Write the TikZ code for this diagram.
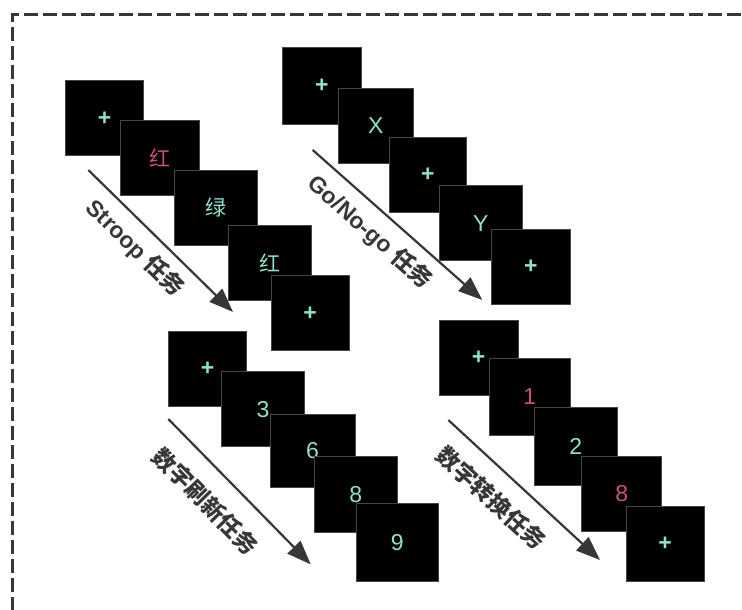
\documentclass[tikz,border=0pt]{standalone}
\usepackage{fontspec}
\setmainfont{Liberation Sans}
\newfontfamily\cjk{Noto Sans CJK SC}
\usetikzlibrary{arrows.meta}
\definecolor{teal1}{RGB}{143,224,208}
\definecolor{pink1}{RGB}{200,80,130}
\definecolor{lblgray}{RGB}{55,55,55}
\definecolor{bordergray}{RGB}{70,70,70}
\tikzset{
  scr/.style={draw=bordergray, line width=0.8pt, fill=black, minimum height=75pt,
    inner sep=0pt, text=teal1, font=\fontsize{23}{25}\selectfont},
  arr/.style={draw=lblgray, line width=2.2pt, -{Triangle[length=24pt,width=18pt]}},
  lbl/.style={sloped, text=lblgray, inner sep=0pt, anchor=center,
    font=\fontsize{23}{26}\selectfont\bfseries},
  frame/.style={draw=lblgray, line width=3pt, dash pattern=on 14pt off 5pt}
}
\begin{document}
\begin{tikzpicture}[x=1pt,y=-1pt]
\useasboundingbox[fill=white] (0,0) rectangle (742,610);
\clip (0,0) rectangle (742,610);
\coordinate (fr) at (760,15);
\coordinate (fc) at (12,15);
\coordinate (fb) at (12,620);
\draw[frame] (fr) -- (fc) -- (fb);

% Stroop
\node[scr, minimum width=78pt] (s1) at (104.7,118.3) {\textbf{+}};
\node[scr, minimum width=78.3pt] (s2) at (159.8,157.8) {\fontsize{21}{23}\cjk\textcolor{pink1}{红}};
\node[scr, minimum width=83.3pt] (s3) at (215.7,207.5) {\fontsize{21}{23}\cjk 绿};
\node[scr, minimum width=83.4pt] (s4) at (270,262.5) {\fontsize{21}{23}\cjk 红};
\node[scr, minimum width=78.3pt] (s5) at (310.2,313.3) {\textbf{+}};
\coordinate (sa) at (88.3,170);
\coordinate (sb) at (233,312);
\draw[arr] (sa) -- (sb) node[lbl, pos=0.435, yshift=-23pt] {Stroop {\cjk\bfseries 任务}};

% Go/No-go
\node[scr, minimum width=78.3pt, minimum height=76.7pt] (g1) at (321.8,85.7) {\textbf{+}};
\node[scr, minimum width=75pt] (g2) at (375.8,125.5) {X};
\node[scr, minimum width=77.7pt] (g3) at (427.8,174.8) {\textbf{+}};
\node[scr, minimum width=83pt] (g4) at (480.8,223.2) {Y};
\node[scr, minimum width=78.3pt] (g5) at (530.8,267.2) {\textbf{+}};
\coordinate (ga) at (312.7,150);
\coordinate (gb) at (482.3,300);
\draw[arr] (ga) -- (gb) node[lbl, pos=0.43, yshift=-23.5pt] {Go/No-go {\cjk\bfseries 任务}};

% digit refresh
\node[scr, minimum width=78.4pt] (r1) at (207.5,368.8) {\textbf{+}};
\node[scr, minimum width=82.6pt] (r2) at (263,409.2) {3};
\node[scr, minimum width=85pt, minimum height=73.4pt] (r3) at (312.5,451) {6};
\node[scr, minimum width=83.7pt, minimum height=75.6pt] (r4) at (355.8,494.5) {8};
\node[scr, minimum width=82.3pt, minimum height=78.4pt] (r5) at (397.2,542.5) {9};
\coordinate (ra) at (168.3,419);
\coordinate (rb) at (310.7,564.3);
\draw[arr] (ra) -- (rb) node[lbl, pos=0.417, yshift=-31pt] {\cjk\bfseries 数字刷新任务};

% digit switch
\node[scr, minimum width=78.7pt] (c1) at (478.7,358.2) {\textbf{+}};
\node[scr, minimum width=80.7pt, minimum height=76.7pt] (c2) at (529.7,396.7) {\textcolor{pink1}{1}};
\node[scr, minimum width=83pt, minimum height=77.7pt] (c3) at (575.8,446.2) {2};
\node[scr, minimum width=80pt, minimum height=74.3pt] (c4) at (621.7,493.8) {\textcolor{pink1}{8}};
\node[scr, minimum width=78.3pt] (c5) at (665.2,544.2) {\textbf{+}};
\coordinate (ca) at (448.3,420);
\coordinate (cb) at (600,560);
\draw[arr] (ca) -- (cb) node[lbl, pos=0.41, yshift=-28pt] {\cjk\bfseries 数字转换任务};
\end{tikzpicture}
\end{document}
